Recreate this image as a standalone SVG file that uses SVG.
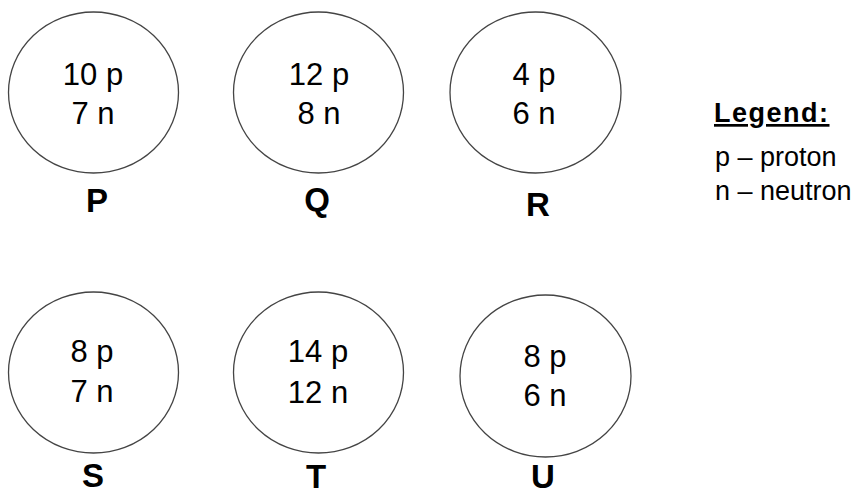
<svg xmlns="http://www.w3.org/2000/svg" width="864" height="495" viewBox="0 0 864 495">
<style>
.atom{fill:#fff;stroke:#444;stroke-width:1.3}
.in{font-family:"Liberation Sans",Arial,sans-serif;font-size:31px;fill:#000;text-anchor:middle}
.lbl{font-family:"Liberation Sans",Arial,sans-serif;font-size:33px;font-weight:bold;fill:#000;text-anchor:middle}
.lg{font-family:"Liberation Sans",Arial,sans-serif;font-size:27px;fill:#000}
</style>
<rect width="864" height="495" fill="#fff"/>
<g id="P"><ellipse class="atom" cx="93.5" cy="92.5" rx="85" ry="80.5"/><text class="in" x="93" y="85">10 p</text><text class="in" x="93" y="124">7 n</text><text class="lbl" x="97" y="212">P</text></g>
<g id="Q"><ellipse class="atom" cx="318.5" cy="92.5" rx="85" ry="80.5"/><text class="in" x="319" y="85">12 p</text><text class="in" x="319" y="124">8 n</text><text class="lbl" x="317" y="211">Q</text></g>
<g id="R"><ellipse class="atom" cx="535.5" cy="92.5" rx="85.5" ry="80.5"/><text class="in" x="534" y="85">4 p</text><text class="in" x="534" y="124">6 n</text><text class="lbl" x="538" y="216">R</text></g>
<g id="S"><ellipse class="atom" cx="93.5" cy="372.5" rx="85" ry="80.5"/><text class="in" x="92" y="362">8 p</text><text class="in" x="92" y="402">7 n</text><text class="lbl" x="93" y="487">S</text></g>
<g id="T"><ellipse class="atom" cx="318.5" cy="372.5" rx="85" ry="80.5"/><text class="in" x="318" y="362">14 p</text><text class="in" x="318" y="403">12 n</text><text class="lbl" x="316" y="488">T</text></g>
<g id="U"><ellipse class="atom" cx="545.5" cy="376" rx="85.5" ry="81"/><text class="in" x="545" y="367">8 p</text><text class="in" x="545" y="406">6 n</text><text class="lbl" x="543" y="488">U</text></g>
<g id="legend">
<text class="lg" x="714" y="122" font-size="25" font-weight="bold" text-decoration="underline" letter-spacing="1.5">Legend:</text>
<text class="lg" x="715" y="166">p – proton</text>
<text class="lg" x="715" y="200">n – neutron</text>
</g>
<g id="connectors"/>
</svg>
